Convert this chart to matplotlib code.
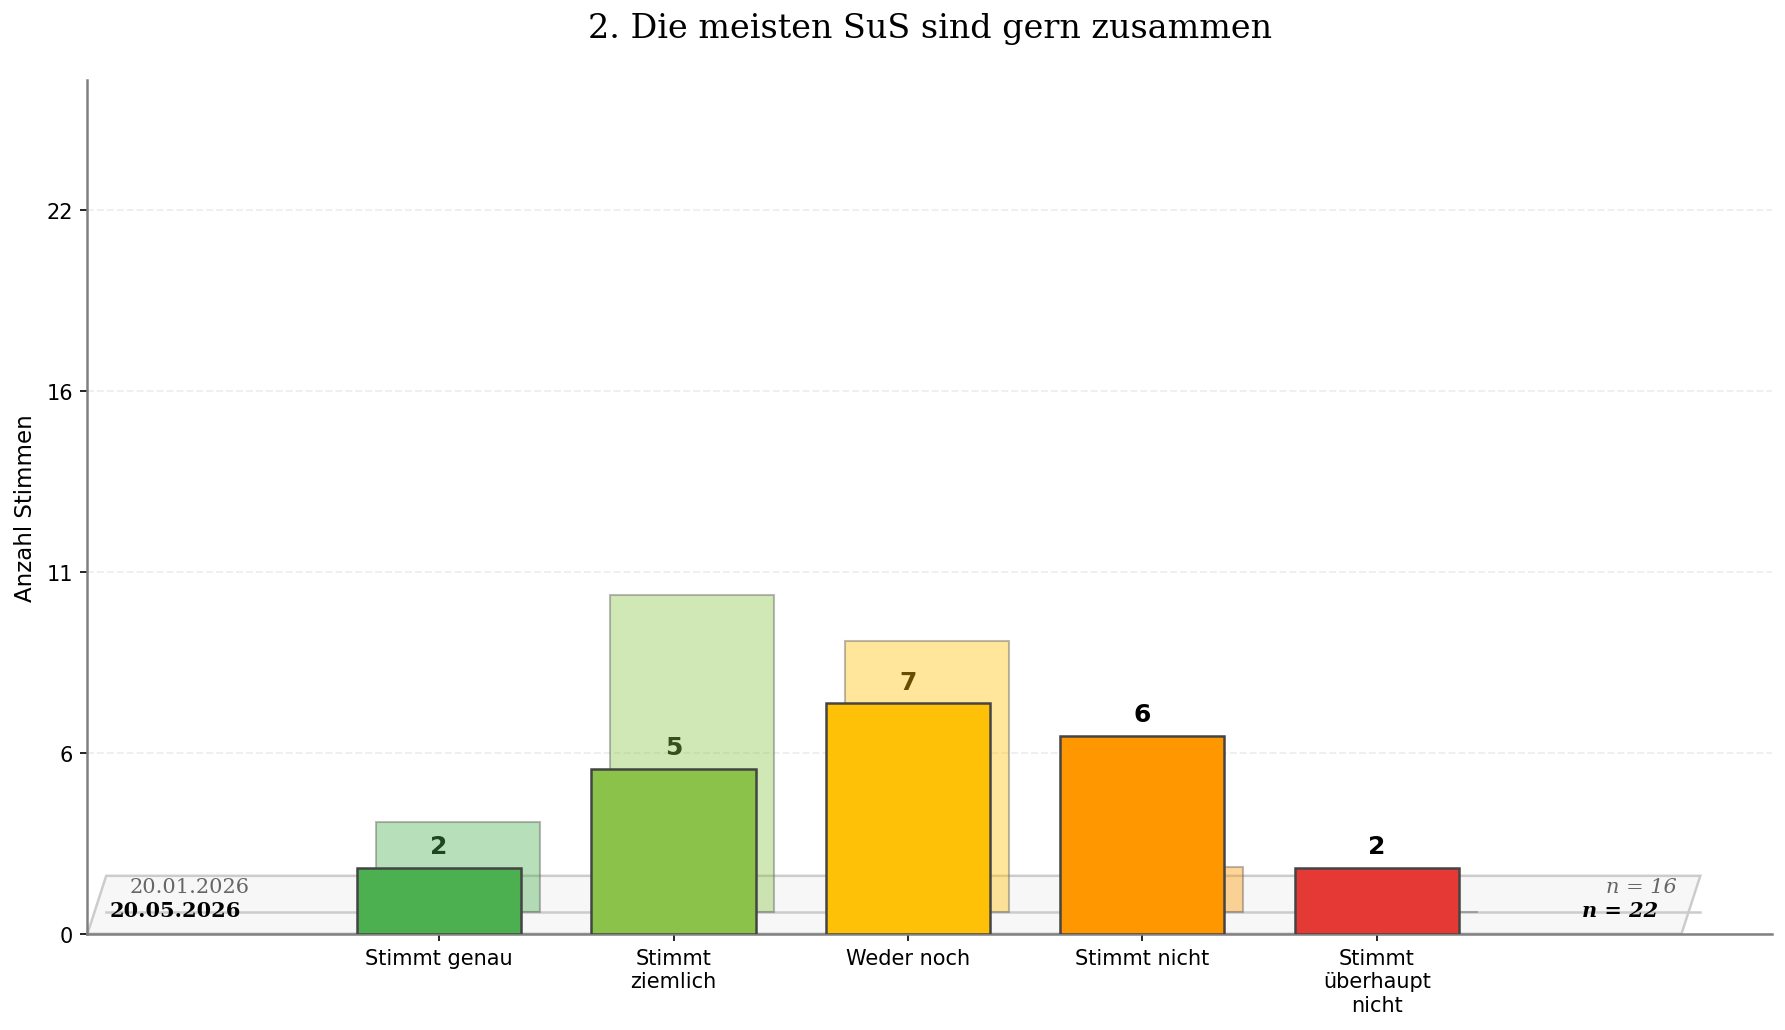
import numpy as np
import matplotlib
matplotlib.use("Agg")
import matplotlib.pyplot as plt
from matplotlib.patches import Polygon

# Daten
categories = ["Stimmt genau", "Stimmt\nziemlich", "Weder noch", "Stimmt nicht",
              "Stimmt\nüberhaupt\nnicht"]
counts_new = [2, 5, 7, 6, 2]
counts_old = [2, 7, 6, 1, 0]
date_new = "20.05.2026"
date_old = "20.01.2026"
colors = ["#4CAF50", "#8BC34A", "#FFC107", "#FF9800", "#E53935"]
label_colors = ["#1E4620", "#374E1E", "#664D03", "black", "black"]
title = "2. Die meisten SuS sind gern zusammen"

n_new = sum(counts_new)
n_old = sum(counts_old)
# alte Werte auf die neue Stichprobengroesse skalieren
old_scaled = np.array(counts_old) * n_new / n_old

x = np.arange(len(categories))
width = 0.7
dx = 0.08          # Versatz der hinteren Reihe
dy = 0.03 * n_new  # Hoehe der hinteren Grundlinie
floor_h = 0.08 * n_new

fig = plt.figure(figsize=(11.9, 6.873), dpi=150)
ax = fig.add_axes([0.049, 0.0934, 0.9436, 0.8282])

# "Boden" fuer die 3D-Optik
floor = Polygon([(-1.5, 0), (5.3, 0), (5.38, floor_h), (-1.42, floor_h)],
                closed=True, facecolor="#F7F7F7", edgecolor="#CCCCCC",
                linewidth=1.2, zorder=1)
ax.add_patch(floor)
ax.plot([-1.42, 5.38], [dy, dy], color="#CCCCCC", linewidth=1.2, zorder=1.5)

# hintere Reihe (alter Zeitpunkt)
ax.bar(x + dx, old_scaled, width, bottom=dy, color=colors, alpha=0.4,
       edgecolor="#555555", linewidth=1.0, zorder=2)

# vordere Reihe (neuer Zeitpunkt)
ax.bar(x, counts_new, width, color=colors, edgecolor="#444444",
       linewidth=1.2, zorder=3)

for xi, v, c in zip(x, counts_new, label_colors):
    ax.text(xi, v + 0.3, str(v), ha="center", va="bottom",
            fontsize=12, fontweight="bold", color=c, zorder=4)

ax.text(-1.405, 0.72, date_new, family="serif", fontweight="bold",
        fontsize=10, va="center", ha="left", zorder=4)
ax.text(-1.32, 1.42, date_old, family="serif", color="#666666",
        fontsize=10, va="center", ha="left", zorder=4)
ax.text(5.2, 0.72, f"n = {n_new}", family="serif", fontweight="bold",
        style="italic", fontsize=10, va="center", ha="right", zorder=4)
ax.text(5.28, 1.42, f"n = {n_old}", family="serif", style="italic",
        color="#666666", fontsize=10, va="center", ha="right", zorder=4)

ax.set_xlim(-1.5, 5.685)
ax.set_ylim(0, n_new * 1.18)
ax.set_xticks(x)
ax.set_xticklabels(categories, fontsize=10)

yt = n_new * np.array([0, 0.25, 0.5, 0.75, 1.0])
ax.set_yticks(yt)
ax.set_yticklabels([str(int(round(t))) for t in yt], fontsize=10)

ax.yaxis.grid(True, linestyle="--", color="#EEEEEE", linewidth=0.9)
ax.set_axisbelow(True)
for s in ["top", "right"]:
    ax.spines[s].set_visible(False)
for s in ["left", "bottom"]:
    ax.spines[s].set_color("#808080")
    ax.spines[s].set_linewidth(1.2)

ax.set_ylabel("Anzahl Stimmen", fontsize=11)
ax.yaxis.set_label_coords(-0.030, 0.5)
ax.text(0.5, 1.061, title, transform=ax.transAxes, ha="center", va="center",
        family="serif", fontsize=16)

fig.savefig("out.png", dpi=150)
